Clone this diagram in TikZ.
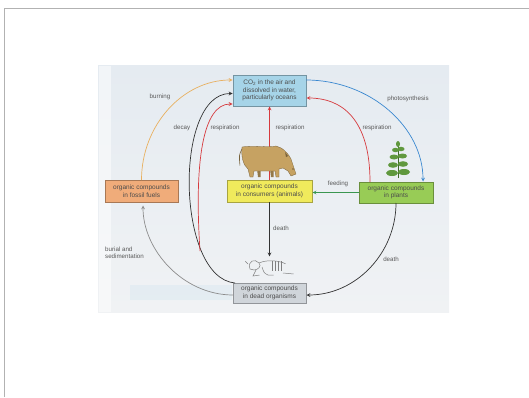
\documentclass[tikz,border=0pt]{standalone}
\usepackage{fontspec}
\setmainfont{Liberation Sans}
\usetikzlibrary{arrows,calc,positioning}

\definecolor{backdrop}{RGB}{229,235,241}
\definecolor{backdroplow}{RGB}{240,242,244}
\definecolor{co2blue}{RGB}{166,212,232}
\definecolor{fuelorange}{RGB}{240,172,122}
\definecolor{animalyellow}{RGB}{240,234,92}
\definecolor{plantgreen}{RGB}{152,204,86}
\definecolor{deadgrey}{RGB}{208,213,218}
\definecolor{burnorange}{RGB}{232,176,96}
\definecolor{respred}{RGB}{214,58,62}
\definecolor{photoblue}{RGB}{58,136,208}
\definecolor{feedgreen}{RGB}{58,150,80}
\definecolor{cowtan}{RGB}{198,162,98}
\definecolor{leafgreen}{RGB}{96,152,62}

\newdimen\hdim
\newdimen\wdim
\hdim=22pt
\wdim=73pt

\tikzstyle{pool}=[
  draw=black!25,
  font={\fontsize{6.5}{7.5}\selectfont},
  inner sep=0pt,
  minimum height=\hdim,
  minimum width=\wdim,
  outer sep=0pt,
  rectangle,
  align=center,
  text=black!70,
]
\tikzstyle{flow}=[
  ->,
  line width=.7pt,
]
\tikzstyle{flowlabel}=[
  font={\fontsize{6.2}{7.2}\selectfont},
  inner sep=0pt,
  text=black!65,
]
\tikzset{
  >=stealth,
  shorten >=.5pt,
}

\begin{document}
\begin{tikzpicture}[x=1pt,y=1pt]
  \useasboundingbox (0,0) rectangle (529,397);
  % page frame
  \draw [black!30, line width=.8pt] (4.5,0) -- (4.5,388.5) -- (529,388.5);
  % backdrop of the cycle
  \shade [top color=backdrop, bottom color=backdroplow] (98,85) rectangle (449,331);
  \fill [white, opacity=.5] (99,85) rectangle (111,331);
  \fill [co2blue, opacity=.15] (130,97) rectangle (232,112);

  % carbon pools
  \node (co2) [pool, fill=co2blue, draw=co2blue!70!black, minimum height=31pt] at (269.5,306.5)
    {CO\textsubscript{2} in the air and\\dissolved in water,\\particularly oceans};
  \node (fuels) [pool, fill=fuelorange, draw=fuelorange!70!black] at (141.5,206)
    {organic compounds\\in fossil fuels};
  \node (animals) [pool, fill=animalyellow, draw=animalyellow!70!black, minimum width=85pt] at (269.5,206)
    {organic compounds\\in consumers (animals)};
  \node (plants) [pool, fill=plantgreen, draw=plantgreen!70!black, minimum width=74pt, minimum height=21pt] at (396,204.5)
    {organic compounds\\in plants};
  \node (dead) [pool, fill=deadgrey, draw=deadgrey!70!black, minimum height=20pt] at (269.5,104)
    {organic compounds\\in dead organisms};
  \node (remains) [inner sep=0pt, minimum width=46pt, minimum height=20pt] at (269.5,130) {};
  \coordinate (decomposers) at (200,146);

  % flows
  \draw [flow, draw=burnorange] (fuels.north) .. controls +(0,55) and +(-50,0) .. ($(co2.west)+(0,10.5)$);
  \draw [flow, draw=black!80] ($(dead.north west)+(2,0)$) to[out=175, in=180, looseness=.8] ($(co2.west)+(0,-3)$);
  \draw [flow, draw=respred] (decomposers) .. controls +(-6,90) and +(-30,0) .. ($(co2.south west)+(0,2)$);
  \draw [flow, draw=respred] (animals.north) -- (co2.south);
  \draw [flow, draw=respred] ($(plants.north west)+(11,0)$) .. controls +(0,64) and +(35,0) .. ($(co2.east)+(0,-7.5)$);
  \draw [flow, draw=photoblue] ($(co2.east)+(0,10.5)$) .. controls +(64,0) and +(0,55) .. ($(plants.north east)+(-10,0)$);
  \draw [flow, draw=feedgreen] (plants.west) -- (plants.west -| animals.east);
  \draw [flow, draw=black!80] (animals.south) -- (animals.south |- remains.north);
  \draw [flow, draw=black!80] (plants.south) .. controls +(0,-50) and +(50,0) .. ($(dead.east)+(0,-2)$);
  \draw [flow, draw=black!45] ($(dead.west)+(0,-2)$) .. controls +(-50,0) and +(0,-45) .. ($(fuels.south)+(1.5,-3)$);

  % flow labels
  \node (lblburning) [flowlabel] at (160,300) {burning};
  \node (lbldecay) [flowlabel] at (182,269) {decay};
  \node (lblrespdead) [flowlabel] at (225,269) {respiration};
  \node (lblrespanimal) [flowlabel] at (290,269) {respiration};
  \node (lblrespplant) [flowlabel] at (377,269) {respiration};
  \node (lblphoto) [flowlabel] at (408,298) {photosynthesis};
  \node (lblfeeding) [flowlabel] at (338,213) {feeding};
  \node (lbldeathanimal) [flowlabel, anchor=west] at (273,169) {death};
  \node (lbldeathplant) [flowlabel] at (391,138) {death};
  \node (lblburial) [flowlabel, align=left, anchor=west] at (105,144) {burial and\\sedimentation};

  % grazing cow
  \begin{scope}[shift={(266,237)}]
    \fill [cowtan!75!black] (4,-9) -- (5,-17) -- (7.5,-17) -- (7.5,-9) -- cycle;
    \fill [cowtan!75!black] (-9,-9) -- (-8,-17) -- (-5.5,-17) -- (-5.5,-9) -- cycle;
    \filldraw [fill=cowtan, draw=cowtan!60!black, line width=.3pt]
      (-24,13) .. controls (-12,15) and (2,12) .. (10,14) -- (15,12)
      .. controls (19,10) and (23,5) .. (25,1) -- (28,-8) -- (30,-14)
      -- (25,-16) -- (22,-11) -- (17,-8) -- (13,-9) -- (13,-17)
      -- (10,-17) -- (9,-11) -- (-12,-11) -- (-13,-17) -- (-16,-17)
      -- (-18,-9) .. controls (-23,-5) and (-25,4) .. (-24,13) -- cycle;
    \draw [cowtan!60!black, line width=.6pt] (-24,11) .. controls (-27,5) .. (-26,-6);
    \fill [cowtan!60!black] (22,4) -- (19,8) -- (20,3) -- cycle;
    \fill [cowtan!60!black] (27,-9) circle (.8);
  \end{scope}

  % young tree
  \begin{scope}[shift={(398,219)}]
    \draw [leafgreen!70!black, line width=.8pt] (0,0) -- (0,34);
    \fill [leafgreen] (-6,5) ellipse (6 and 3) (6,6) ellipse (6 and 3);
    \fill [leafgreen] (-5,13) ellipse (5 and 2.8) (5,14) ellipse (5 and 2.8);
    \fill [leafgreen] (-4,21) ellipse (4.5 and 2.5) (4.5,22) ellipse (4.5 and 2.5);
    \fill [leafgreen] (-2.5,28) ellipse (3.5 and 2.2) (3,29) ellipse (3.5 and 2.2);
    \fill [leafgreen] (0,34) ellipse (2 and 3);
  \end{scope}

  % remains of dead organisms
  \begin{scope}[shift={(270,130)}, black!50, line width=.5pt]
    \draw (-20,-2) .. controls (-23,6) and (-15,9) .. (-11,4)
      .. controls (-8,1) and (-12,-3) .. (-16,-3) -- cycle;
    \draw (-11,4) .. controls (-2,8) and (10,6) .. (16,3);
    \foreach \x in {2,5,8,11}
      \draw (\x,6) -- (\x,-4);
    \draw (-14,-3) -- (-17,-9) -- (-10,-8);
    \draw (-8,0) .. controls (-6,-6) .. (-2,-8) -- (4,-8);
    \draw (-22,3) -- (-25,6);
    \draw (13,-6) -- (24,-7);
  \end{scope}
\end{tikzpicture}
\end{document}
